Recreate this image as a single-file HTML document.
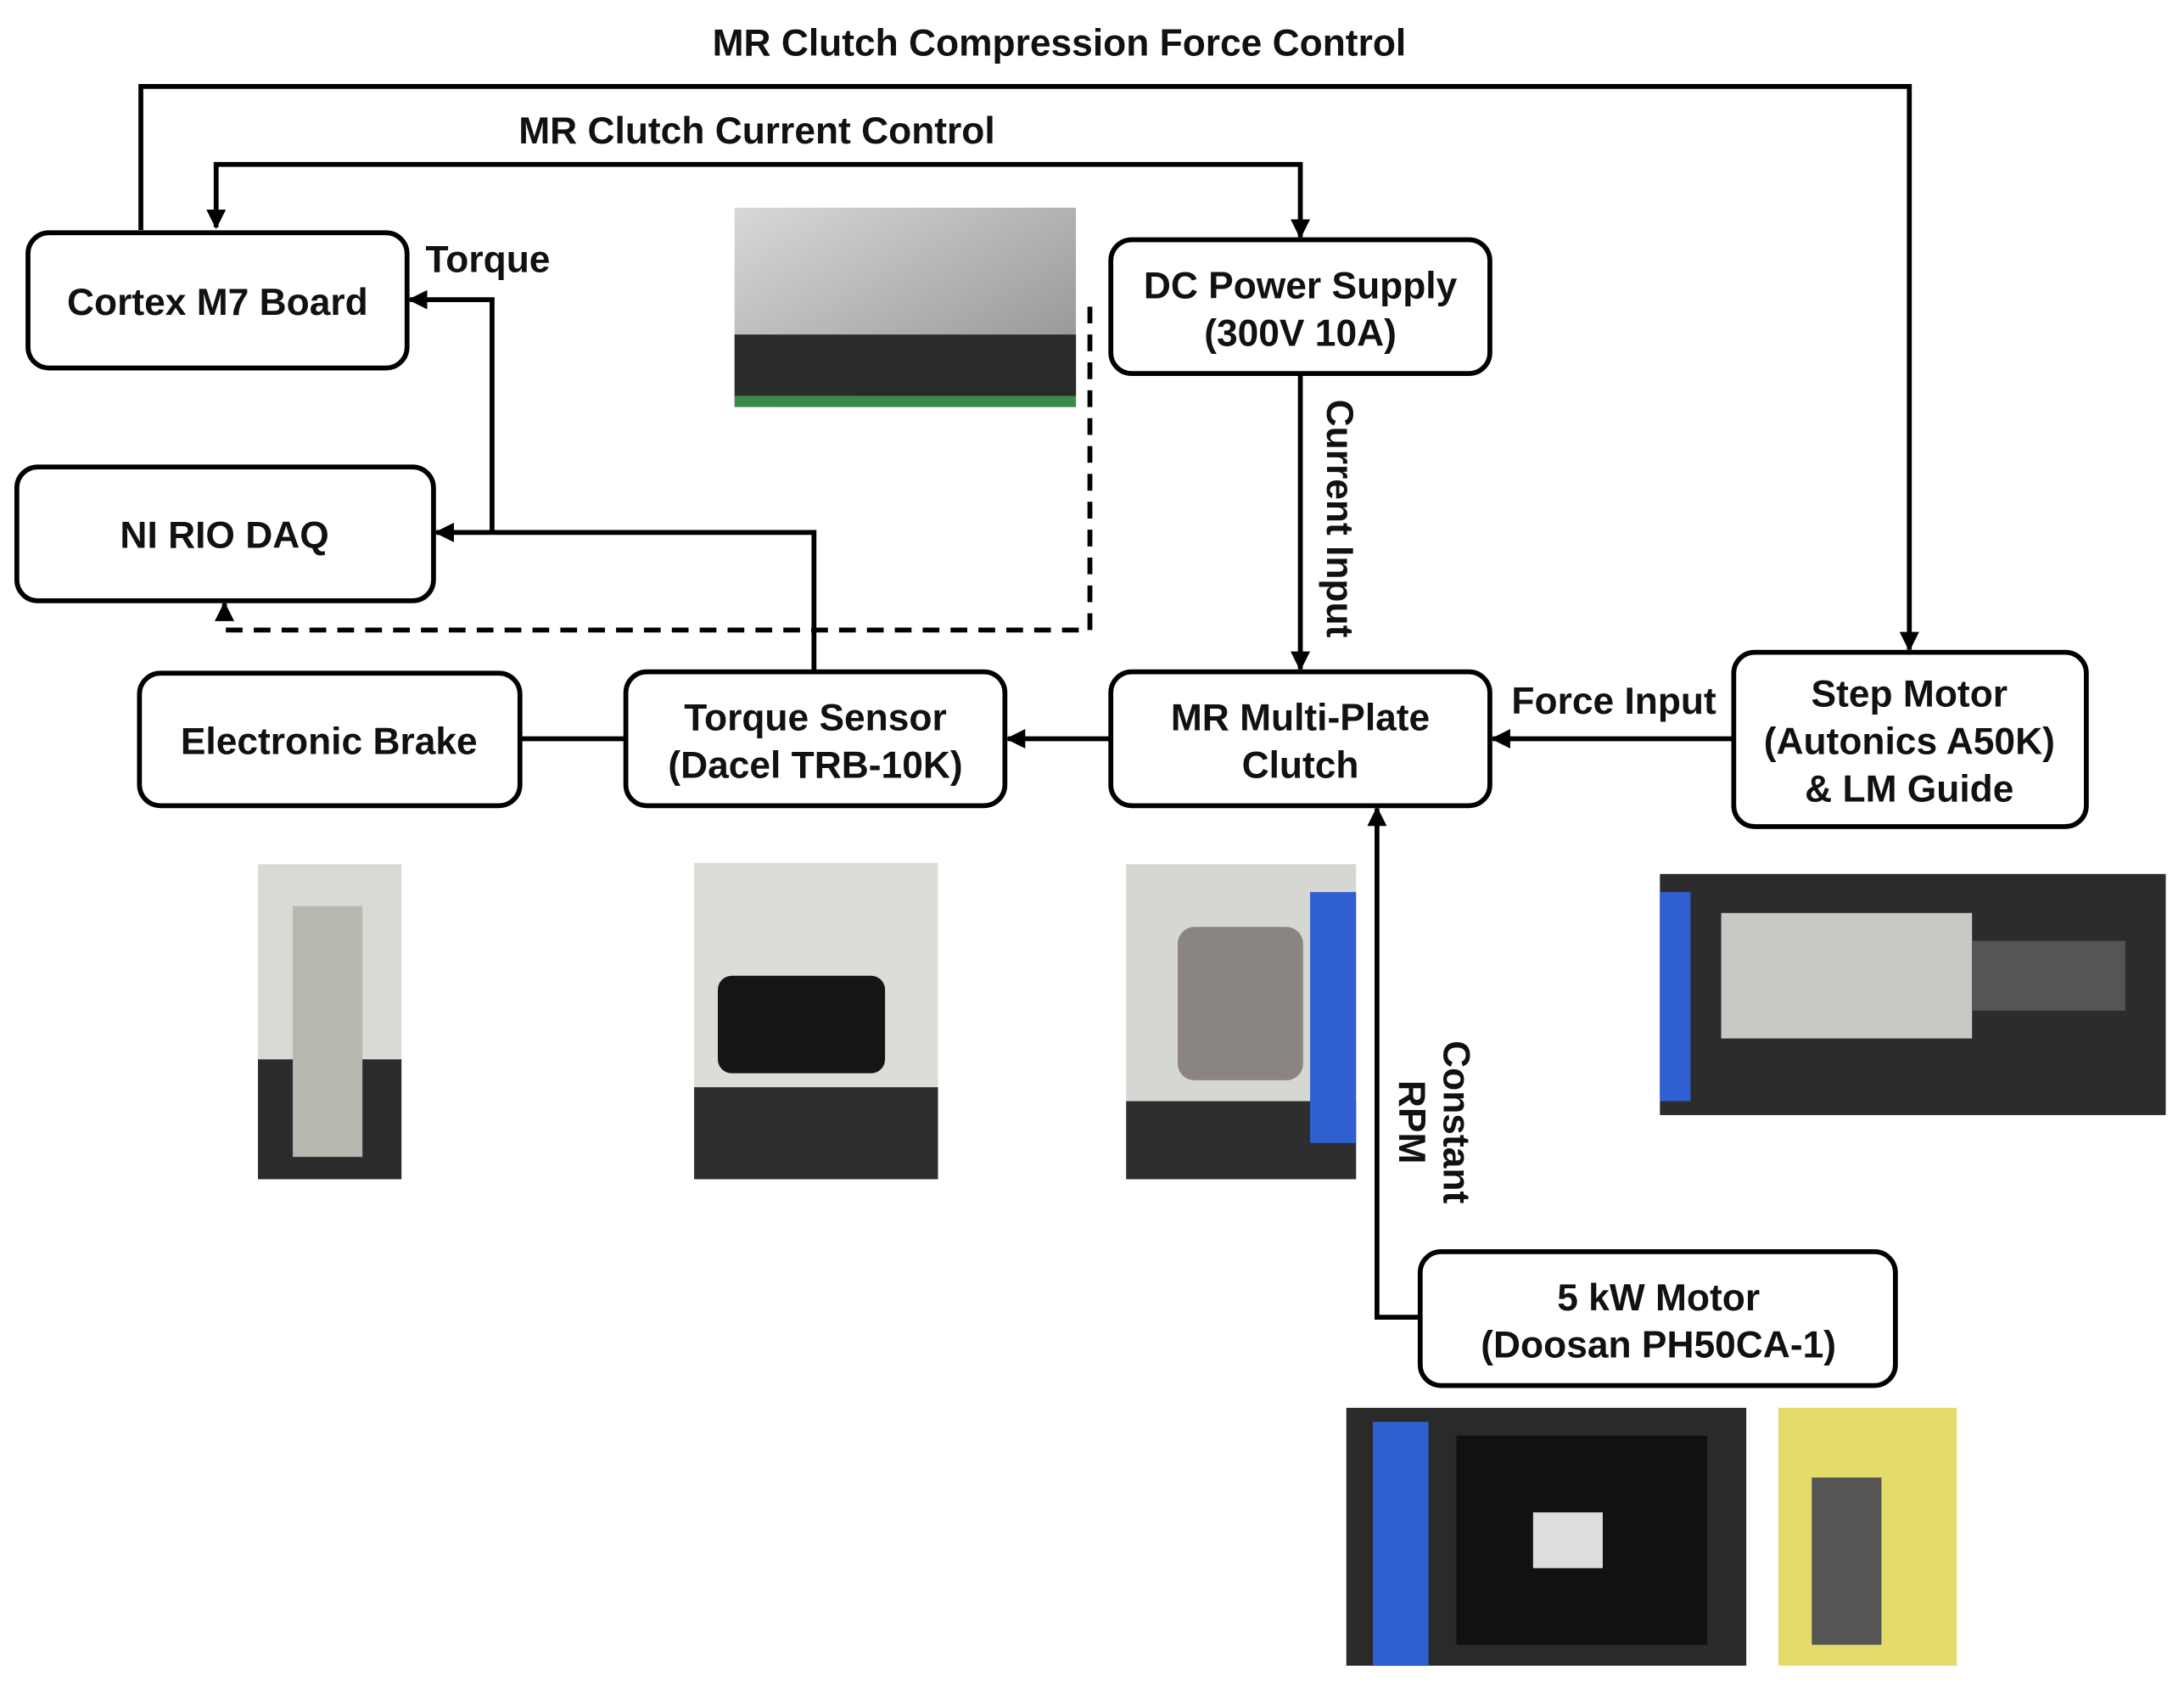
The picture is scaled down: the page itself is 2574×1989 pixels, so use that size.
<!DOCTYPE html>
<html><head><meta charset="utf-8"><style>
html,body{margin:0;padding:0;background:#fff;}
svg{display:block;}
text{font-family:"Liberation Sans",sans-serif;font-weight:bold;fill:#111;}
</style></head><body>
<svg width="2574" height="1989" viewBox="0 0 1567 1211" xmlns="http://www.w3.org/2000/svg">
<defs>
<marker id="a" viewBox="0 0 10 10" refX="9" refY="5" markerWidth="4" markerHeight="4" orient="auto-start-reverse"><path d="M0,0 L10,5 L0,10 z" fill="#000"/></marker>
<linearGradient id="g1" x1="0" y1="0" x2="1" y2="1"><stop offset="0" stop-color="#d8d8d8"/><stop offset="1" stop-color="#8c8c8c"/></linearGradient>
</defs>
<!-- title texts -->
<text x="760" y="40" font-size="27" text-anchor="middle">MR Clutch Compression Force Control</text>
<text x="543" y="103" font-size="27" text-anchor="middle">MR Clutch Current Control</text>
<g fill="none" stroke="#000" stroke-width="3.5">
<path d="M101,165 V62 H1370 V466" marker-end="url(#a)"/>
<path d="M155,163 V118 H933 V170" marker-start="url(#a)" marker-end="url(#a)"/>
<path d="M584,482 V382 H313" marker-end="url(#a)"/>
<path d="M353,382 V215 H294" marker-end="url(#a)"/>
<path d="M782,220 V452 H161 V433" stroke-dasharray="12,8" marker-end="url(#a)"/>
<path d="M933,268 V480" marker-end="url(#a)"/>
<path d="M797,530 H723" marker-end="url(#a)"/>
<path d="M373,530 H449"/>
<path d="M1244,530 H1071" marker-end="url(#a)"/>
<path d="M1019,945 H988 V580" marker-end="url(#a)"/>
</g>
<!-- boxes -->
<g fill="#fff" stroke="#000" stroke-width="3.5">
<rect x="20" y="167" width="272" height="97" rx="15"/>
<rect x="12" y="335" width="299" height="96" rx="15"/>
<rect x="797" y="172" width="272" height="96" rx="15"/>
<rect x="100" y="483" width="273" height="95" rx="15"/>
<rect x="449" y="482" width="272" height="96" rx="15"/>
<rect x="797" y="482" width="272" height="96" rx="15"/>
<rect x="1244" y="468" width="253" height="125" rx="15"/>
<rect x="1019" y="898" width="341" height="96" rx="15"/>
</g>
<g font-size="27" text-anchor="middle">
<text x="156" y="226">Cortex M7 Board</text>
<text x="161" y="393">NI RIO DAQ</text>
<text x="933" y="214">DC Power Supply</text>
<text x="933" y="248">(300V 10A)</text>
<text x="236" y="541">Electronic Brake</text>
<text x="585" y="524">Torque Sensor</text>
<text x="585" y="558">(Dacel TRB-10K)</text>
<text x="933" y="524">MR Multi-Plate</text>
<text x="933" y="558">Clutch</text>
<text x="1370" y="507">Step Motor</text>
<text x="1370" y="541">(Autonics A50K)</text>
<text x="1370" y="575">&amp; LM Guide</text>
<text x="1190" y="940">5 kW Motor</text>
<text x="1190" y="974">(Doosan PH50CA-1)</text>
<text x="350" y="195">Torque</text>
<text x="1158" y="512">Force Input</text>
<text transform="translate(952,372) rotate(90)">Current Input</text>
<text transform="translate(1036,805) rotate(90)">Constant</text>
<text transform="translate(1004,805) rotate(90)">RPM</text>
</g>
<!-- photos -->
<rect x="527" y="149" width="245" height="143" fill="url(#g1)"/>
<rect x="527" y="240" width="245" height="44" fill="#2a2a2a"/>
<rect x="527" y="284" width="245" height="8" fill="#3a8a4a"/>
<rect x="185" y="620" width="103" height="226" fill="#d9d9d6"/>
<rect x="185" y="760" width="103" height="86" fill="#2b2b2b"/>
<rect x="210" y="650" width="50" height="180" fill="#b8b8b0"/>
<rect x="498" y="619" width="175" height="227" fill="#dcdcd8"/>
<rect x="498" y="780" width="175" height="66" fill="#2e2e2e"/>
<rect x="515" y="700" width="120" height="70" rx="10" fill="#151515"/>
<rect x="808" y="620" width="165" height="226" fill="#d6d6d2"/>
<rect x="808" y="790" width="165" height="56" fill="#2e2e2e"/>
<rect x="845" y="665" width="90" height="110" rx="12" fill="#8a8580"/>
<rect x="940" y="640" width="33" height="180" fill="#2f5fd0"/>
<rect x="1191" y="627" width="363" height="173" fill="#2c2c2c"/>
<rect x="1235" y="655" width="180" height="90" fill="#c8c8c4"/>
<rect x="1415" y="675" width="110" height="50" fill="#555"/>
<rect x="1191" y="640" width="22" height="150" fill="#2f5fd0"/>
<rect x="966" y="1010" width="287" height="185" fill="#2a2a2a"/>
<rect x="985" y="1020" width="40" height="175" fill="#2f5fd0"/>
<rect x="1045" y="1030" width="180" height="150" fill="#111"/>
<rect x="1100" y="1085" width="50" height="40" fill="#ddd"/>
<rect x="1276" y="1010" width="128" height="185" fill="#e3dc6a"/>
<rect x="1300" y="1060" width="50" height="120" fill="#555"/>
</svg>
</body></html>
